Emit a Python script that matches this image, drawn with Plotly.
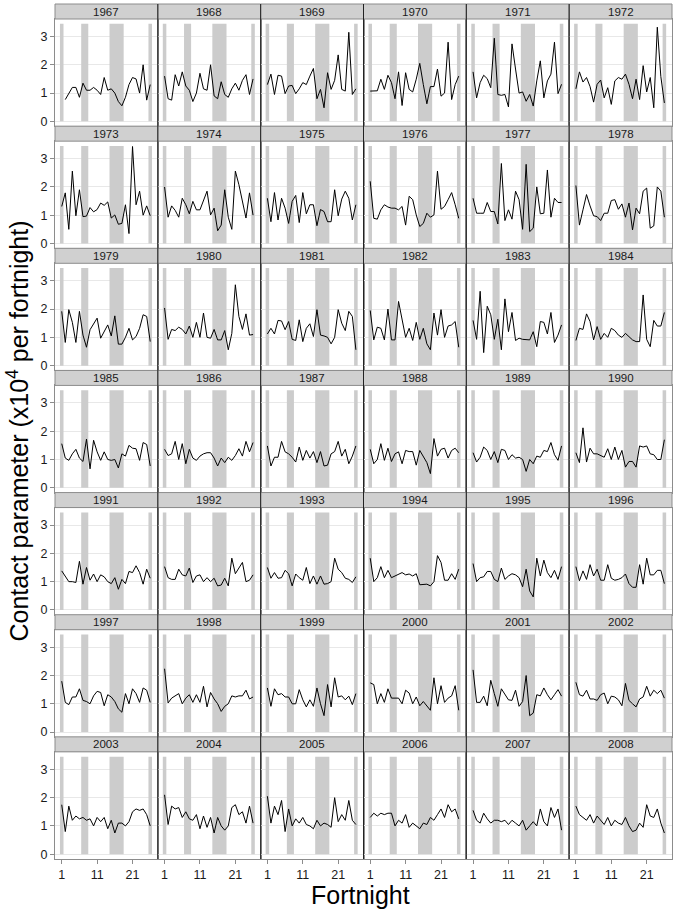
import plotly.graph_objects as go

years = list(range(1967, 2009))
fortnights = list(range(1, 27))
x_ticks = [1, 11, 21]
y_ticks = [0, 1, 2, 3]
band_starts = [0.5, 6.5, 14.5, 25.5]
band_ends = [1.5, 8.5, 18.5, 26.5]
band_top = 3.45

# 1967 starts at fortnight 2
v1967 = [0.77, 1.0, 1.2, 1.2, 0.85, 1.35, 1.1, 1.1, 1.2, 1.1, 0.95, 1.55, 1.1, 1.15, 1.0, 0.7, 0.55, 0.85, 1.3, 1.55, 1.5, 1.0, 2.0, 0.75, 1.3]
v1968 = [1.6, 0.8, 0.75, 1.65, 1.25, 1.75, 1.25, 1.1, 0.7, 1.0, 1.7, 1.15, 1.1, 2.0, 0.9, 0.8, 1.4, 0.95, 0.85, 1.15, 1.35, 1.1, 1.45, 1.65, 0.95, 1.5]
v1969 = [1.3, 1.67, 0.95, 1.63, 1.6, 0.98, 1.25, 1.27, 0.98, 1.15, 1.37, 1.3, 1.6, 1.87, 0.8, 1.13, 0.48, 1.72, 1.13, 1.45, 2.35, 1.13, 1.07, 3.15, 0.95, 1.15]
v1970 = [1.07, 1.07, 1.08, 1.49, 1.13, 1.63, 1.37, 0.8, 1.75, 0.56, 1.72, 1.13, 1.04, 1.49, 2.05, 1.3, 0.62, 1.23, 1.23, 1.85, 0.89, 1.0, 2.8, 0.77, 1.3, 1.6]
v1971 = [1.75, 0.83, 1.37, 1.63, 1.51, 1.19, 2.94, 0.95, 0.92, 0.95, 0.51, 2.74, 1.85, 1.0, 1.04, 0.71, 0.95, 0.54, 1.43, 2.14, 0.83, 1.43, 1.67, 2.8, 0.98, 1.31]
v1972 = [1.15, 1.75, 1.39, 1.55, 1.23, 0.68, 1.31, 1.46, 0.83, 1.19, 0.6, 1.43, 1.55, 1.49, 1.67, 1.31, 0.8, 1.49, 0.77, 1.97, 1.04, 1.55, 0.48, 3.33, 1.58, 0.65]
v1973 = [1.31, 1.79, 0.5, 2.56, 0.98, 1.9, 0.95, 0.97, 1.27, 1.12, 1.2, 1.43, 1.35, 1.47, 0.9, 1.01, 0.68, 0.71, 1.37, 0.35, 3.43, 1.37, 1.85, 1.0, 1.33, 0.98]
v1974 = [2.0, 0.93, 1.33, 1.17, 0.93, 1.6, 1.37, 1.05, 1.49, 1.19, 1.19, 1.49, 1.85, 1.01, 1.25, 0.45, 0.65, 1.9, 0.93, 0.5, 2.56, 2.08, 1.5, 0.9, 1.79, 1.0]
v1975 = [1.6, 0.77, 1.8, 0.83, 1.6, 1.25, 0.71, 1.49, 1.7, 0.74, 1.8, 1.05, 1.37, 1.37, 0.63, 1.2, 1.13, 0.77, 0.77, 1.9, 0.98, 1.57, 1.85, 1.6, 0.83, 1.37]
v1976 = [2.2, 0.89, 0.86, 1.19, 1.37, 1.29, 1.25, 1.25, 1.19, 1.31, 0.65, 1.67, 1.55, 1.01, 0.6, 0.71, 1.07, 0.93, 1.01, 2.56, 1.21, 1.31, 1.55, 1.8, 1.37, 0.89]
v1977 = [1.6, 1.07, 1.07, 1.07, 1.45, 1.13, 1.13, 0.69, 2.83, 0.81, 1.19, 0.86, 1.85, 1.55, 0.5, 2.8, 0.42, 0.54, 2.0, 1.05, 1.07, 2.6, 0.93, 1.6, 1.45, 1.45]
v1978 = [2.05, 0.65, 1.19, 1.73, 1.33, 0.98, 0.95, 0.81, 1.07, 1.07, 1.52, 1.55, 1.21, 1.4, 0.93, 1.43, 0.48, 1.25, 1.05, 1.85, 1.96, 0.54, 0.62, 2.0, 1.85, 0.93]
v1979 = [1.92, 0.82, 1.98, 1.53, 0.82, 1.92, 1.08, 0.65, 1.27, 1.48, 1.68, 0.97, 1.2, 1.44, 1.05, 1.76, 0.76, 0.76, 1.0, 1.32, 0.91, 1.03, 1.32, 1.8, 1.74, 0.85]
v1980 = [2.04, 0.93, 1.28, 1.24, 1.36, 1.28, 1.12, 1.4, 1.0, 1.53, 1.0, 1.86, 1.0, 0.97, 1.28, 0.91, 0.91, 1.24, 0.56, 1.14, 2.86, 1.74, 1.28, 1.83, 1.08, 1.1]
v1981 = [1.12, 1.32, 1.12, 1.6, 1.58, 1.27, 1.56, 0.93, 0.89, 1.62, 0.85, 1.32, 1.48, 1.03, 1.98, 1.08, 1.05, 1.0, 0.77, 1.0, 1.98, 1.5, 1.24, 1.92, 1.74, 0.56]
v1982 = [1.95, 0.91, 1.36, 1.32, 0.91, 2.0, 0.91, 0.91, 2.27, 1.62, 1.0, 1.32, 0.89, 1.53, 0.93, 1.32, 0.77, 0.56, 1.86, 1.08, 1.98, 1.0, 1.4, 1.44, 1.56, 0.65]
v1983 = [1.6, 0.93, 2.63, 0.46, 2.1, 1.8, 0.93, 1.64, 0.56, 2.36, 1.2, 1.88, 0.89, 0.97, 0.93, 0.93, 0.91, 1.2, 0.67, 1.56, 1.53, 1.12, 1.88, 0.82, 1.08, 1.44]
v1984 = [0.89, 1.32, 1.28, 1.83, 1.56, 0.91, 1.38, 0.93, 1.14, 1.0, 1.32, 1.24, 1.08, 1.0, 1.14, 1.03, 0.91, 0.85, 0.85, 2.5, 0.93, 0.67, 1.6, 1.4, 1.4, 1.88]
v1985 = [1.56, 1.05, 0.97, 1.2, 1.36, 1.05, 0.93, 1.72, 0.67, 1.68, 1.27, 0.97, 1.27, 1.0, 0.97, 1.0, 0.7, 1.2, 1.12, 1.5, 1.4, 1.38, 0.97, 1.6, 1.53, 0.77]
v1986 = [1.36, 1.14, 1.2, 1.64, 1.0, 1.56, 0.85, 1.36, 1.05, 0.97, 1.12, 1.2, 1.24, 1.24, 1.05, 0.77, 1.05, 0.89, 1.08, 0.97, 1.14, 1.38, 1.12, 1.64, 1.27, 1.6]
v1987 = [1.48, 0.77, 1.08, 1.08, 1.64, 1.27, 1.2, 1.08, 0.91, 1.44, 0.97, 1.32, 1.05, 1.28, 0.89, 1.28, 0.77, 0.8, 1.2, 1.28, 1.64, 1.12, 1.36, 0.85, 1.12, 1.48]
v1988 = [1.36, 0.85, 1.0, 1.56, 0.97, 1.4, 0.93, 1.2, 1.27, 0.85, 1.32, 1.28, 1.28, 0.8, 1.32, 1.08, 0.89, 0.5, 1.74, 1.12, 1.36, 1.4, 1.05, 1.32, 1.4, 1.24]
v1989 = [1.24, 0.91, 1.08, 1.44, 1.32, 1.0, 1.28, 0.89, 1.36, 1.32, 1.0, 1.17, 1.05, 1.08, 1.0, 0.58, 1.0, 0.85, 1.12, 1.08, 1.32, 1.28, 1.6, 1.17, 0.97, 1.48]
v1990 = [1.24, 0.89, 2.12, 0.91, 1.4, 1.2, 1.2, 1.14, 1.08, 1.38, 1.0, 1.44, 1.0, 1.32, 0.73, 0.93, 0.93, 0.73, 1.48, 1.44, 1.48, 1.2, 1.17, 1.0, 1.0, 1.7]
v1991 = [1.38, 1.2, 1.0, 1.0, 0.97, 1.72, 0.91, 1.5, 1.05, 1.27, 1.0, 1.24, 1.17, 1.0, 0.93, 1.14, 0.73, 1.08, 0.93, 1.36, 1.32, 1.56, 1.32, 0.91, 1.44, 1.12]
v1992 = [1.53, 1.14, 1.08, 1.08, 1.44, 1.24, 1.2, 1.48, 0.97, 1.2, 1.24, 1.0, 1.14, 1.0, 1.12, 0.85, 0.88, 1.12, 0.85, 1.83, 1.28, 1.48, 1.68, 1.0, 1.05, 1.24]
v1993 = [1.5, 1.12, 1.32, 1.12, 1.14, 1.4, 1.28, 0.85, 1.27, 1.14, 1.05, 1.5, 0.93, 1.2, 0.91, 1.2, 0.91, 0.93, 1.0, 1.83, 1.44, 1.32, 1.12, 1.08, 0.97, 1.17]
v1994 = [1.83, 1.0, 1.14, 1.53, 1.14, 1.4, 1.14, 1.2, 1.28, 1.32, 1.24, 1.27, 1.2, 1.28, 0.89, 0.89, 0.91, 0.85, 1.0, 1.92, 1.68, 1.05, 1.05, 1.28, 1.08, 1.44]
v1995 = [1.64, 1.0, 1.14, 1.17, 1.36, 1.36, 1.08, 1.0, 1.48, 1.08, 1.2, 1.28, 1.24, 1.14, 0.82, 1.44, 0.67, 0.46, 1.83, 1.2, 1.76, 1.32, 1.14, 1.4, 1.08, 1.53]
v1996 = [1.53, 1.03, 1.38, 1.08, 1.6, 1.2, 1.44, 1.05, 1.05, 1.6, 1.12, 1.05, 1.08, 1.14, 1.27, 0.93, 0.8, 0.8, 1.6, 0.91, 1.83, 1.24, 1.24, 1.4, 1.4, 0.93]
v1997 = [1.8, 1.05, 0.97, 1.24, 1.24, 1.53, 1.12, 1.08, 1.0, 1.28, 1.44, 1.4, 0.93, 1.32, 1.24, 1.08, 0.82, 0.7, 1.36, 1.0, 1.53, 1.36, 1.05, 1.56, 1.48, 1.05]
v1998 = [2.24, 1.03, 1.2, 1.28, 1.36, 1.0, 1.2, 1.32, 1.05, 1.32, 1.05, 1.62, 0.89, 1.4, 1.17, 1.0, 0.73, 0.91, 1.0, 1.28, 1.24, 1.28, 1.28, 1.48, 1.17, 1.24]
v1999 = [1.56, 0.91, 1.53, 1.32, 1.36, 1.24, 1.24, 1.0, 1.0, 1.5, 1.14, 0.89, 1.14, 0.91, 1.56, 1.0, 0.58, 1.68, 0.89, 1.92, 1.24, 1.28, 1.14, 1.27, 0.97, 1.36]
v2000 = [1.74, 1.68, 1.0, 1.36, 1.05, 1.53, 1.2, 1.2, 1.2, 1.0, 1.48, 1.38, 1.0, 1.24, 0.93, 1.08, 0.91, 0.77, 1.92, 1.0, 1.64, 1.05, 1.2, 1.28, 1.64, 0.77]
v2001 = [2.2, 1.05, 1.05, 1.27, 0.93, 1.83, 1.36, 0.91, 1.53, 1.32, 1.14, 1.12, 1.48, 0.91, 1.08, 2.0, 0.58, 0.67, 1.32, 1.28, 1.56, 1.32, 1.14, 1.32, 1.5, 1.27]
v2002 = [1.76, 1.32, 1.27, 1.48, 1.17, 1.17, 1.12, 1.32, 1.38, 1.0, 1.27, 1.24, 1.14, 0.93, 1.72, 1.12, 1.0, 0.89, 1.17, 1.24, 1.62, 1.27, 1.48, 1.36, 1.48, 1.2]
v2003 = [1.75, 0.8, 1.7, 1.2, 1.35, 1.25, 1.3, 1.2, 1.25, 1.0, 1.3, 1.15, 1.3, 0.9, 1.2, 0.75, 1.1, 1.1, 1.0, 1.15, 1.5, 1.6, 1.55, 1.6, 1.4, 1.0]
v2004 = [2.1, 1.05, 1.7, 1.6, 1.65, 1.3, 1.5, 1.25, 1.2, 1.4, 0.9, 1.35, 0.95, 1.3, 0.75, 1.3, 1.0, 0.85, 1.0, 1.65, 1.75, 1.4, 1.5, 1.1, 1.7, 1.1]
v2005 = [2.05, 1.1, 1.7, 1.4, 1.9, 0.8, 1.6, 1.0, 1.25, 1.1, 1.3, 1.05, 1.0, 0.9, 1.2, 1.0, 1.1, 1.05, 0.95, 2.0, 1.15, 1.4, 1.2, 1.9, 1.2, 1.05]
v2006 = [1.3, 1.45, 1.35, 1.45, 1.4, 1.45, 1.45, 1.0, 1.2, 1.1, 1.4, 0.95, 1.1, 1.0, 0.9, 1.1, 1.05, 1.3, 1.2, 1.4, 1.6, 1.3, 1.75, 1.5, 1.6, 1.25]
v2007 = [1.55, 1.2, 1.1, 1.45, 1.25, 1.1, 1.2, 1.2, 1.15, 1.2, 1.05, 1.2, 1.1, 1.0, 1.2, 0.85, 1.0, 1.15, 1.0, 1.6, 1.15, 1.0, 1.65, 1.3, 1.6, 0.85]
v2008 = [1.7, 1.4, 1.3, 1.2, 1.4, 1.1, 1.35, 1.2, 1.05, 1.3, 1.0, 1.2, 1.1, 1.05, 1.3, 1.0, 0.8, 0.85, 1.1, 0.95, 1.75, 1.35, 1.3, 1.6, 1.1, 0.75]

series = [v1967, v1968, v1969, v1970, v1971, v1972, v1973, v1974, v1975, v1976,
          v1977, v1978, v1979, v1980, v1981, v1982, v1983, v1984, v1985, v1986,
          v1987, v1988, v1989, v1990, v1991, v1992, v1993, v1994, v1995, v1996,
          v1997, v1998, v1999, v2000, v2001, v2002, v2003, v2004, v2005, v2006,
          v2007, v2008]

W, H = 677, 910
ML, MR, MT, MB = 55, 5, 4, 51
PW, PH = W - ML - MR, H - MT - MB
NROWS, NCOLS = 7, 6
pitch = PH / NROWS
strip_h = 15.0
FONT = "Liberation Sans, Arial, sans-serif"
BORDER = "#8c8c8c"
BAND = "#cccccc"
STRIP = "#d0d0d0"

fig = go.Figure()
layout = {}
shapes = []
annotations = []

for idx, (year, vals) in enumerate(zip(years, series)):
    r, c = divmod(idx, NCOLS)
    n = idx + 1
    sfx = "" if n == 1 else str(n)
    x0, x1 = c / NCOLS, (c + 1) / NCOLS
    y_top_px = r * pitch + strip_h
    y_bot_px = (r + 1) * pitch
    yd = [1 - y_bot_px / PH, 1 - y_top_px / PH]
    xs = fortnights[len(fortnights) - len(vals):]
    fig.add_trace(go.Scatter(x=xs, y=vals, mode="lines",
                             line=dict(color="black", width=1),
                             xaxis="x" + sfx, yaxis="y" + sfx,
                             showlegend=False, hoverinfo="skip"))
    layout["xaxis" + sfx] = dict(
        domain=[x0, x1], anchor="y" + sfx, range=[-0.9, 28.15],
        automargin=False,
        tickvals=x_ticks, showticklabels=(r == NROWS - 1),
        ticks="outside" if r == NROWS - 1 else "", ticklen=4, tickcolor=BORDER,
        showgrid=False, zeroline=False, showline=True, mirror=True,
        linecolor=BORDER, linewidth=1,
        tickfont=dict(family=FONT, size=12.5, color="#1a1a1a"))
    layout["yaxis" + sfx] = dict(
        domain=yd, anchor="x" + sfx, range=[-0.17, 3.62],
        automargin=False,
        tickvals=y_ticks, showticklabels=(c == 0),
        ticks="outside" if c == 0 else "", ticklen=4, tickcolor=BORDER,
        showgrid=True, gridcolor="#e8e8e8", gridwidth=1,
        zeroline=False, showline=True, mirror=True,
        linecolor=BORDER, linewidth=1,
        tickfont=dict(family=FONT, size=12.5, color="#1a1a1a"))
    for bs, be in zip(band_starts, band_ends):
        shapes.append(dict(type="rect", xref="x" + sfx, yref="y" + sfx,
                           x0=bs, x1=be, y0=0, y1=band_top,
                           fillcolor=BAND, line=dict(width=0), layer="between"))
    s_top = 1 - (r * pitch) / PH
    s_bot = 1 - y_top_px / PH
    shapes.append(dict(type="rect", xref="paper", yref="paper",
                       x0=x0, x1=x1, y0=s_bot, y1=s_top,
                       fillcolor=STRIP, line=dict(color=BORDER, width=1)))
    annotations.append(dict(text=str(year), xref="paper", yref="paper",
                            x=(x0 + x1) / 2, y=(s_top + s_bot) / 2,
                            showarrow=False, xanchor="center", yanchor="middle",
                            font=dict(family=FONT, size=11.5, color="#1a1a1a")))

for c in range(1, NCOLS):
    shapes.append(dict(type="line", xref="paper", yref="paper",
                       x0=c / NCOLS, x1=c / NCOLS, y0=0, y1=1,
                       line=dict(color="#222222", width=1)))

annotations.append(dict(text="Contact parameter (x10<sup>4</sup> per fortnight)",
                        xref="paper", yref="paper", x=(17 - ML) / PW, y=0.5,
                        textangle=-90, showarrow=False,
                        xanchor="center", yanchor="middle",
                        font=dict(family=FONT, size=25, color="black")))
annotations.append(dict(text="Fortnight", xref="paper", yref="paper",
                        x=(360 - ML) / PW, y=1 - (895 - MT) / PH, showarrow=False,
                        xanchor="center", yanchor="middle",
                        font=dict(family=FONT, size=25, color="black")))

fig.update_layout(width=W, height=H, template="none",
                  margin=dict(l=ML, r=MR, t=MT, b=MB, autoexpand=False),
                  paper_bgcolor="white", plot_bgcolor="white",
                  shapes=shapes, annotations=annotations, **layout)
fig.write_html("out.html", config={"displayModeBar": False},
               post_script="document.body.style.margin='0';"
                           "document.body.style.padding='0';"
                           "document.body.style.overflow='hidden';")
